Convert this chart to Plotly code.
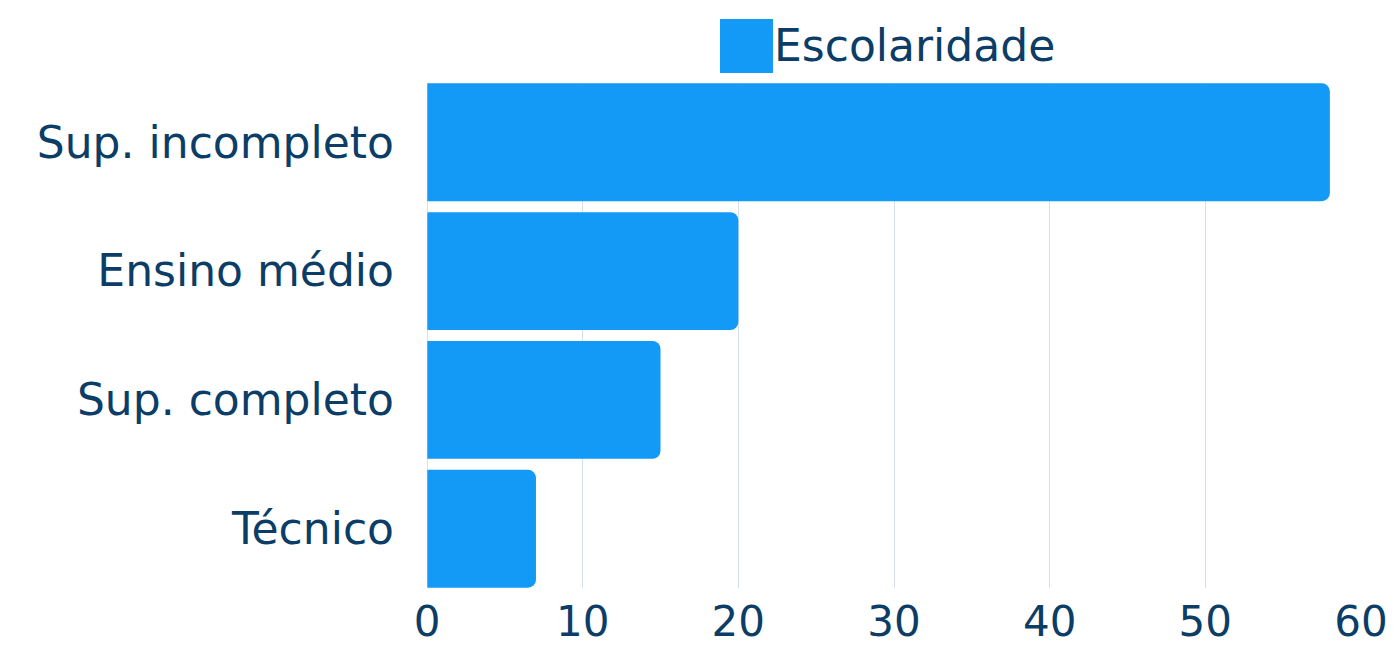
import plotly.graph_objects as go

categories = ["Sup. incompleto", "Ensino médio", "Sup. completo", "Técnico"]
values = [58, 20, 15, 7]
series_name = "Escolaridade"
tick_values = [0, 10, 20, 30, 40, 50, 60]

BAR = "#1399F6"
TEXT = "#0B3D66"
FONT = "DejaVu Sans"
SIZE = 44

fig = go.Figure()
fig.add_trace(go.Bar(
    y=categories, x=values, orientation="h", name=series_name,
    marker=dict(color=BAR, line=dict(width=0)), showlegend=False,
))

# legend drawn by hand so the swatch can be large
fig.add_shape(type="rect", xref="paper", yref="paper",
              x0=(720 - 427) / 934, x1=(773 - 427) / 934,
              y0=(588 - 73) / 505, y1=(588 - 19) / 505,
              fillcolor=BAR, line=dict(width=0))
fig.add_annotation(text=series_name, xref="paper", yref="paper",
                   x=(772 - 427) / 934, y=(588 - 46) / 505,
                   xanchor="left", yanchor="middle", showarrow=False,
                   font=dict(size=SIZE, color=TEXT, family=FONT))

fig.update_layout(
    width=1395, height=649,
    margin=dict(l=427, r=34, t=83, b=61),
    paper_bgcolor="white", plot_bgcolor="white",
    bargap=0.085, barcornerradius=8,
    font=dict(family=FONT, color=TEXT, size=SIZE),
    xaxis=dict(range=[0, 60], tickvals=tick_values, showgrid=True,
               gridcolor="#D3DFEA", gridwidth=1, zeroline=False,
               showline=False, ticks="", tickfont=dict(size=42, color=TEXT),
               ticklabelstandoff=5, automargin=False),
    yaxis=dict(range=[3.46, -0.46], showgrid=False, zeroline=False,
               showline=False, ticks="", ticklabelstandoff=32,
               tickfont=dict(size=SIZE, color=TEXT), automargin=False),
)
fig.add_shape(type="line", xref="x", yref="paper", x0=0, x1=0, y0=0, y1=1,
              line=dict(color="#B8C4CE", width=1))

fig.write_html("out.html", config={"displayModeBar": False},
               post_script="document.body.style.margin='0';")
